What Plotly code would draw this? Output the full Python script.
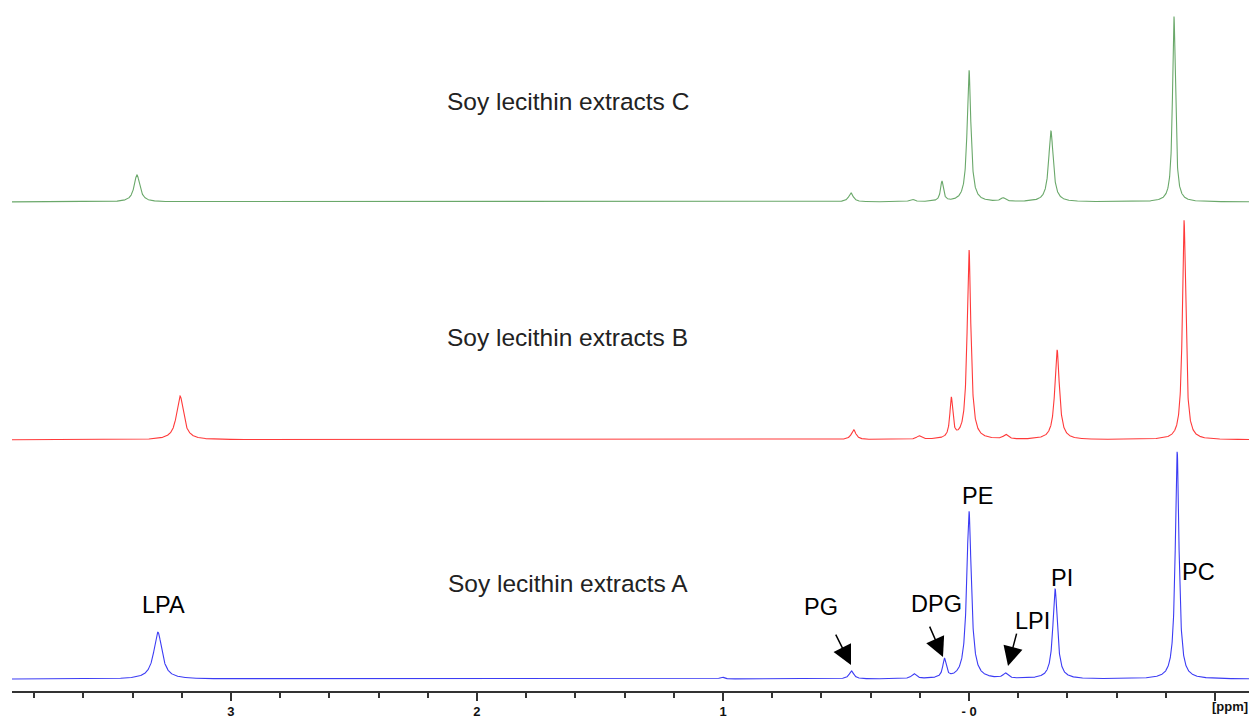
import numpy as np
import plotly.graph_objects as go

# ---------------- data ----------------
# peak positions (ppm), heights (arbitrary units) and full widths (ppm)
peak_names = ["LPA", "~1.0", "PG", "~0.22", "DPG", "PE", "LPI", "PI", "PC"]

ppm_A = [3.297, 1.004, 0.478, 0.224, 0.100, 0.000, -0.148, -0.350, -0.846]
hgt_A = [47, 2, 8, 5, 19, 168, 5, 90, 228]
wid_A = [0.040, 0.02, 0.022, 0.022, 0.016, 0.022, 0.022, 0.022, 0.018]

ppm_B = [3.207, 1.004, 0.469, 0.204, 0.072, 0.000, -0.149, -0.358, -0.874]
hgt_B = [44, 0.5, 10, 3.5, 40, 190, 4.5, 90, 220]
wid_B = [0.034, 0.02, 0.022, 0.022, 0.014, 0.018, 0.022, 0.022, 0.016]

ppm_C = [3.382, 1.004, 0.480, 0.232, 0.110, 0.000, -0.138, -0.333, -0.833]
hgt_C = [27, 0.5, 9, 2.5, 20, 132, 3.5, 71, 186]
wid_C = [0.028, 0.02, 0.022, 0.022, 0.014, 0.018, 0.022, 0.022, 0.014]

series_names = ["Soy lecithin extracts A", "Soy lecithin extracts B", "Soy lecithin extracts C"]

major_ticks = [3, 2, 1, 0, -1]
major_labels = ["3", "2", "1", "- 0", ""]

# ---------------- layout helpers ----------------
W, H = 1249, 719
L_M, R_M, T_M, B_M = 12, 0, 0, 26
X_LEFT, X_RIGHT = 3.89, -1.138
plot_w = W - L_M - R_M
plot_h = H - T_M - B_M


def px2ppm(px):
    return X_LEFT - (px - L_M) * (X_LEFT - X_RIGHT) / plot_w


def py2y(py):
    return plot_h - (py - T_M)


offsets = [py2y(681), py2y(441), py2y(202.5)]
colors = ["#3c3cf4", "#ff3a3a", "#6aa86a"]

x = np.linspace(X_LEFT, X_RIGHT, 8000)


def spectrum(pos, hgt, wid):
    y = np.zeros_like(x)
    for p, h, w in zip(pos, hgt, wid):
        g = w / 2.0
        y += h * g * g / ((x - p) ** 2 + g * g)
    return y


fig = go.Figure()
for (pos, hgt, wid), off, col, nm in zip(
    [(ppm_A, hgt_A, wid_A), (ppm_B, hgt_B, wid_B), (ppm_C, hgt_C, wid_C)],
    offsets, colors, series_names):
    fig.add_trace(go.Scatter(x=x, y=spectrum(pos, hgt, wid) + off, mode="lines",
                             line=dict(color=col, width=1.1), name=nm,
                             hoverinfo="skip", showlegend=False))

annotations = []
# series titles
for nm, py in zip(series_names, [585, 338, 102]):
    annotations.append(dict(x=px2ppm(567.5), y=py2y(py), xref="x", yref="y", text=nm,
                            showarrow=False, xanchor="center", yanchor="middle",
                            font=dict(family="Liberation Sans, Arial, sans-serif",
                                      size=24.5, color="#222222")))

# peak labels (series A)
labels = [("LPA", 163, 607), ("PG", 821, 609), ("DPG", 936, 606), ("PE", 977, 497),
          ("LPI", 1032, 623), ("PI", 1062, 580), ("PC", 1198, 574)]
for t, px, py in labels:
    annotations.append(dict(x=px2ppm(px), y=py2y(py), xref="x", yref="y", text=t,
                            showarrow=False, xanchor="center", yanchor="middle",
                            font=dict(family="Liberation Sans, Arial, sans-serif",
                                      size=23.5, color="#000000")))

# arrows
arrows = [((851, 667), (835, 635)), ((943, 659), (929, 627)), ((1008, 668), (1017, 634))]
for (tx, ty), (sx, sy) in arrows:
    annotations.append(dict(x=px2ppm(tx), y=py2y(ty), xref="x", yref="y", text="",
                            showarrow=True, ax=sx - tx, ay=sy - ty, arrowhead=2,
                            arrowsize=2.6, arrowwidth=1.5, arrowcolor="#000000",
                            standoff=0, startstandoff=0))

# axis unit label
annotations.append(dict(x=px2ppm(1210), y=0, xref="x", yref="paper", text="<b>[ppm]</b>",
                        showarrow=False, xanchor="left", yanchor="top", yshift=-6,
                        font=dict(family="Liberation Sans, Arial, sans-serif",
                                  size=13, color="#111111")))

fig.update_layout(
    width=W, height=H,
    margin=dict(l=L_M, r=R_M, t=T_M, b=B_M),
    paper_bgcolor="white", plot_bgcolor="white",
    annotations=annotations,
    xaxis=dict(range=[X_LEFT, X_RIGHT], showgrid=False, zeroline=False,
               showline=True, linecolor="#333333", linewidth=1.5,
               tickmode="array", tickvals=major_ticks, ticktext=major_labels,
               ticks="outside", ticklen=8, tickwidth=1.5, tickcolor="#333333",
               tickfont=dict(family="Liberation Sans, Arial, sans-serif", size=13,
                             color="#111111", weight="bold"),
               minor=dict(tickmode="linear", tick0=0, dtick=0.2, ticks="outside",
                          ticklen=5, tickwidth=1.5, tickcolor="#333333",
                          showgrid=False)),
    yaxis=dict(range=[0, plot_h], visible=False, showgrid=False, zeroline=False),
)

fig.write_html("out.html", config={"displayModeBar": False},
               post_script="document.body.style.margin='0';document.body.style.overflow='hidden';")
